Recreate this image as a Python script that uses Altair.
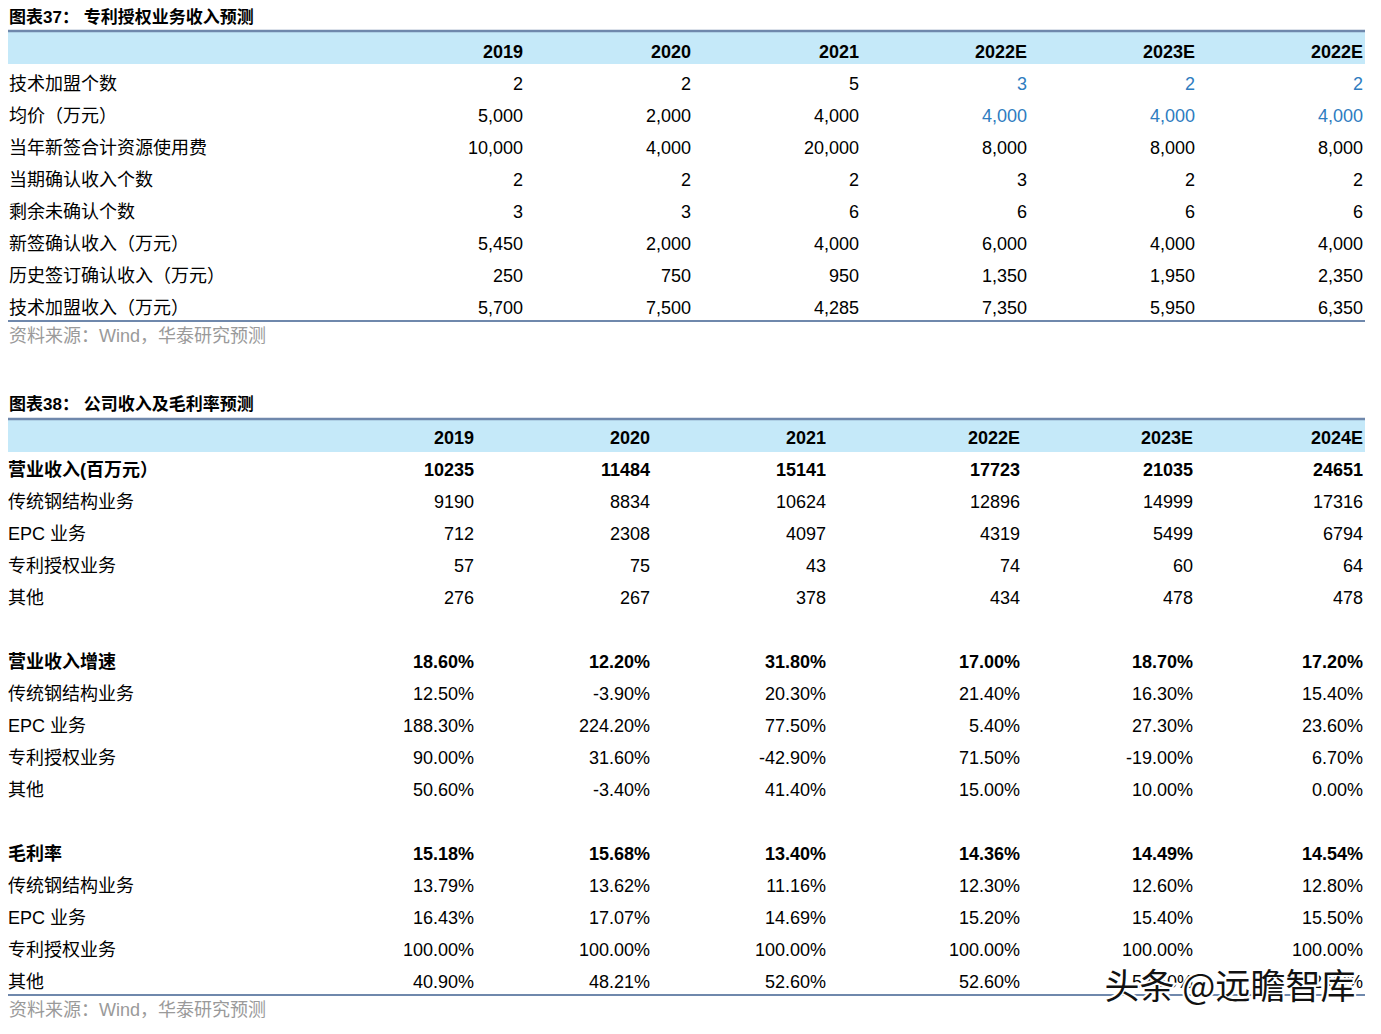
import altair as alt
import pandas as pd

# ---------------- data ----------------
t1_title = "图表37： 专利授权业务收入预测"
t1_years = ["2019", "2020", "2021", "2022E", "2023E", "2022E"]
t1_rows = ["技术加盟个数", "均价（万元）", "当年新签合计资源使用费", "当期确认收入个数",
           "剩余未确认个数", "新签确认收入（万元）", "历史签订确认收入（万元）", "技术加盟收入（万元）"]
t1_values = [
    [2, 2, 5, 3, 2, 2],
    [5000, 2000, 4000, 4000, 4000, 4000],
    [10000, 4000, 20000, 8000, 8000, 8000],
    [2, 2, 2, 3, 2, 2],
    [3, 3, 6, 6, 6, 6],
    [5450, 2000, 4000, 6000, 4000, 4000],
    [250, 750, 950, 1350, 1950, 2350],
    [5700, 7500, 4285, 7350, 5950, 6350],
]
t1_assumption_rows = [0, 1]      # forecast inputs shown in blue
t1_assumption_cols = [3, 4, 5]

t2_title = "图表38： 公司收入及毛利率预测"
t2_years = ["2019", "2020", "2021", "2022E", "2023E", "2024E"]
rev_rows = ["营业收入(百万元）", "传统钢结构业务", "EPC 业务", "专利授权业务", "其他"]
rev_values = [
    [10235, 11484, 15141, 17723, 21035, 24651],
    [9190, 8834, 10624, 12896, 14999, 17316],
    [712, 2308, 4097, 4319, 5499, 6794],
    [57, 75, 43, 74, 60, 64],
    [276, 267, 378, 434, 478, 478],
]
growth_rows = ["营业收入增速", "传统钢结构业务", "EPC 业务", "专利授权业务", "其他"]
growth_values = [
    [18.60, 12.20, 31.80, 17.00, 18.70, 17.20],
    [12.50, -3.90, 20.30, 21.40, 16.30, 15.40],
    [188.30, 224.20, 77.50, 5.40, 27.30, 23.60],
    [90.00, 31.60, -42.90, 71.50, -19.00, 6.70],
    [50.60, -3.40, 41.40, 15.00, 10.00, 0.00],
]
margin_rows = ["毛利率", "传统钢结构业务", "EPC 业务", "专利授权业务", "其他"]
margin_values = [
    [15.18, 15.68, 13.40, 14.36, 14.49, 14.54],
    [13.79, 13.62, 11.16, 12.30, 12.60, 12.80],
    [16.43, 17.07, 14.69, 15.20, 15.40, 15.50],
    [100.00, 100.00, 100.00, 100.00, 100.00, 100.00],
    [40.90, 48.21, 52.60, 52.60, 52.60, 52.60],
]
source_text = "资料来源：Wind，华泰研究预测"
watermark = "头条 @远瞻智库"

# ---------------- build cell tables ----------------
BLACK = "#000000"
BLUE = "#2E7CC0"

c1 = []
for j, y in enumerate(t1_years):
    c1.append(dict(r=0, c=j + 1, text=y, bold=1, color=BLACK))
for i, (name, vals) in enumerate(zip(t1_rows, t1_values)):
    c1.append(dict(r=i + 1, c=0, text=name, bold=0, color=BLACK))
    for j, v in enumerate(vals):
        blue = i in t1_assumption_rows and j in t1_assumption_cols
        c1.append(dict(r=i + 1, c=j + 1, text=f"{v:,}", bold=0,
                       color=BLUE if blue else BLACK))
df1 = pd.DataFrame(c1)

c2 = []
for j, y in enumerate(t2_years):
    c2.append(dict(r=0, c=j + 1, text=y, bold=1, color=BLACK))
blocks = [(rev_rows, rev_values, lambda v: f"{v}", 1),
          (growth_rows, growth_values, lambda v: f"{v:.2f}%", 7),
          (margin_rows, margin_values, lambda v: f"{v:.2f}%", 13)]
for names, vals, fmt, start in blocks:
    for i, (name, row) in enumerate(zip(names, vals)):
        w = 1 if i == 0 else 0
        c2.append(dict(r=start + i, c=0, text=name, bold=w, color=BLACK))
        for j, v in enumerate(row):
            c2.append(dict(r=start + i, c=j + 1, text=fmt(v), bold=w, color=BLACK))
df2 = pd.DataFrame(c2)

FONT = "Liberation Sans, Arial, Noto Sans CJK SC"
W, H = 1365, 1018
XR = 1357  # right end of the table rules / header band


def table_layers(df, xrange, yrange, ymax):
    xs = alt.Scale(domain=list(range(7)), range=xrange, nice=False, zero=False)
    ys = alt.Scale(domain=[0, ymax], range=yrange, nice=False, zero=False)
    layers = []
    for is_label in (True, False):
        for b in (0, 1):
            cond = f"datum.c {'==' if is_label else '>'} 0 && datum.bold == {b}"
            layers.append(
                alt.Chart(df).transform_filter(cond).mark_text(
                    align="left" if is_label else "right", baseline="middle",
                    fontSize=18, font=FONT,
                    fontWeight="bold" if b else "normal",
                ).encode(
                    x=alt.X("c:Q", scale=xs, axis=None),
                    y=alt.Y("r:Q", scale=ys, axis=None),
                    text="text:N",
                    color=alt.Color("color:N", scale=None),
                )
            )
    return layers


one = pd.DataFrame({"k": [0]})


def band(y0, y1):
    return alt.Chart(one).mark_rect(color="#C5E9F9").encode(
        x=alt.value(-1), x2=alt.value(XR), y=alt.value(y0), y2=alt.value(y1))


def rule(y, w):
    return alt.Chart(one).mark_rule(color="#6F88AC", strokeWidth=w).encode(
        x=alt.value(-1), x2=alt.value(XR), y=alt.value(y))


def title(txt, y):
    return alt.Chart(one).mark_text(
        text=txt, align="left", baseline="middle", fontSize=17, fontWeight="bold", font=FONT
    ).encode(x=alt.value(1), y=alt.value(y))


def source(y):
    return alt.Chart(one).mark_text(
        text=source_text, align="left", baseline="middle", fontSize=18, color="#9A9A9A", font=FONT
    ).encode(x=alt.value(1), y=alt.value(y))


t1 = table_layers(df1, [1, 515, 683, 851, 1019, 1187, 1355], [45, 301], 8)
t2 = table_layers(df2, [0, 466, 642, 818, 1012, 1185, 1355], [431, 975], 17)

wm_halo = alt.Chart(one).mark_text(
    text=watermark, align="center", baseline="middle", fontSize=35, font="Noto Sans CJK SC",
    stroke="white", strokeWidth=4, color="white"
).encode(x=alt.value(1222), y=alt.value(980))
wm = alt.Chart(one).mark_text(
    text=watermark, align="center", baseline="middle", fontSize=35, font="Noto Sans CJK SC",
    color="#111111"
).encode(x=alt.value(1222), y=alt.value(980))

chart = alt.layer(
    band(24, 56), band(412, 444),
    rule(23, 2.5), rule(313, 2), rule(411, 2.5), rule(987, 2),
    title(t1_title, 10), title(t2_title, 397),
    source(329), source(1003),
    *t1, *t2,
    wm_halo, wm,
).resolve_scale(x="independent", y="independent").properties(
    width=W, height=H, padding=0, autosize=alt.AutoSizeParams(type="none")
).configure_view(strokeWidth=0, strokeOpacity=0)

chart.save("out.html", embed_options={"renderer": "svg", "actions": False})
